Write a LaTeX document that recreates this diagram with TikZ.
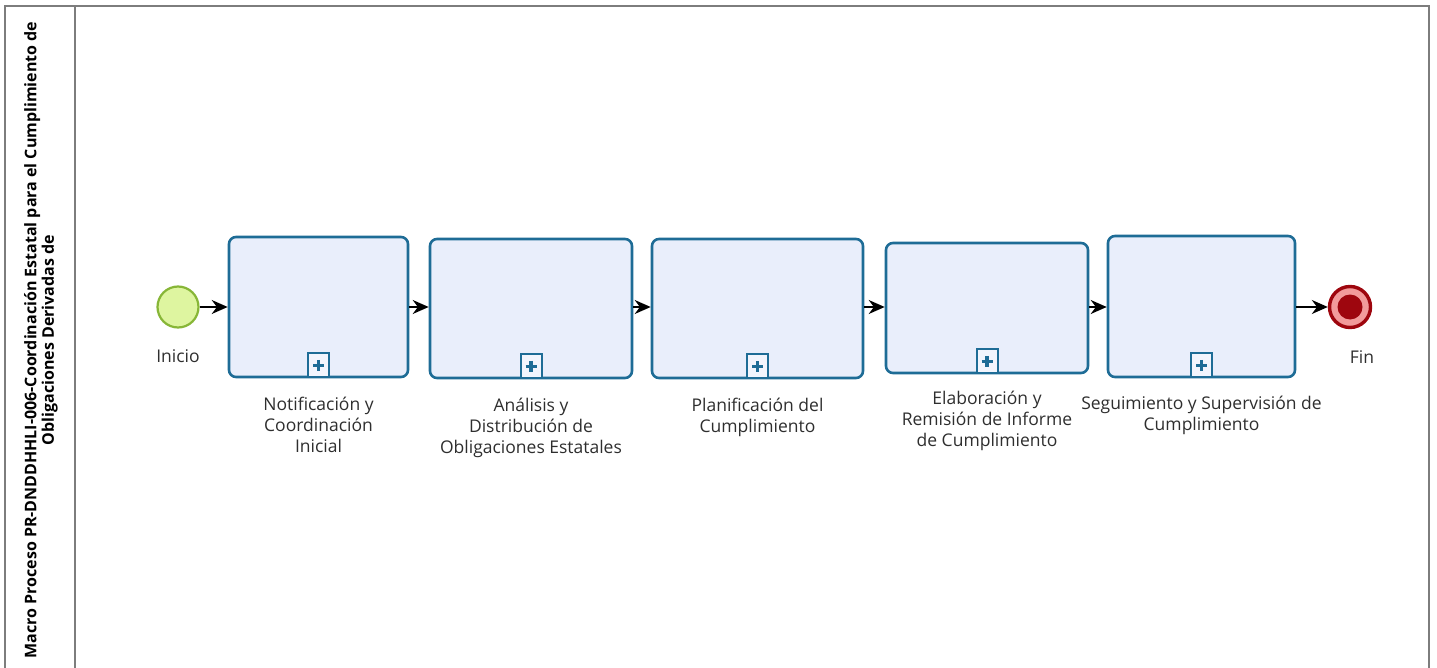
\documentclass[tikz,border=0pt]{standalone}
\usepackage{fontspec}
\setmainfont{Open Sans}
\usetikzlibrary{arrows.meta,positioning,calc}

\definecolor{frameGray}{RGB}{125,125,125}
\definecolor{taskFill}{RGB}{233,238,251}
\definecolor{taskDraw}{RGB}{30,108,150}
\definecolor{startFill}{RGB}{222,245,160}
\definecolor{startDraw}{RGB}{135,182,55}
\definecolor{endDraw}{RGB}{158,6,14}
\definecolor{endRing}{RGB}{242,155,155}

\begin{document}
\begin{tikzpicture}[
    x=1pt, y=-1pt,
    task/.style={draw=taskDraw, fill=taskFill, line width=2.6pt, rounded corners=7pt, inner sep=0pt},
    marker/.style={draw=taskDraw, fill=taskFill!60!white, line width=2pt, minimum width=21pt, minimum height=24pt, inner sep=0pt, anchor=south},
    caption/.style={font=\fontsize{17.5}{21}\selectfont, align=center, text=black!82, inner sep=0pt},
    flow/.style={-{Stealth[length=16pt, width=14pt]}, line width=1.6pt}
]
\useasboundingbox (0,0) rectangle (1437,668);

% pool frame and title band
\draw[frameGray, line width=1.4pt] (5,668) |- (1429,6) -- (1429,668);
\draw[frameGray, line width=1.4pt] (75,6) -- (75,668);
\node[rotate=90, align=center, font=\bfseries\fontsize{16}{17.5}\selectfont] (title) at (41,340)
    {Macro Proceso PR-DNDDHHLI-006-Coordinación Estatal para el Cumplimiento de\\Obligaciones Derivadas de};

% events
\node[circle, draw=startDraw, fill=startFill, line width=2.2pt, minimum size=41pt, inner sep=0pt] (start) at (178,307) {};
\node[circle, draw=endDraw, fill=endRing, line width=3.4pt, minimum size=41pt, inner sep=0pt] (end) at (1350,307) {};
\node[circle, fill=endDraw, minimum size=25pt, inner sep=0pt] (endin) at (end.center) {};

\node[caption, below=21pt of start] (startlbl) {Inicio};
\node[caption, below=21pt of end, xshift=12pt] (endlbl) {Fin};

% sub-processes
\node[task, minimum width=179pt, minimum height=140pt] (t1) at (318.5,307) {};
\node[task, minimum width=202pt, minimum height=139pt] (t2) at (531,308.5) {};
\node[task, minimum width=211pt, minimum height=139pt] (t3) at (757.5,308.5) {};
\node[task, minimum width=202pt, minimum height=130pt] (t4) at (987,308) {};
\node[task, minimum width=187pt, minimum height=141pt] (t5) at (1201.5,306.5) {};

\foreach \t in {t1,t2,t3,t4,t5}{
    \node[marker] (\t m) at (\t.south) {};
    \draw[taskDraw, line width=3.4pt] ($(\t m.center)+(-5.5,0)$) -- ($(\t m.center)+(5.5,0)$);
    \draw[taskDraw, line width=3.4pt] ($(\t m.center)+(0,-5.5)$) -- ($(\t m.center)+(0,5.5)$);
}

\node[caption, below=19pt of t1] (t1lbl) {Notificación y\\Coordinación\\Inicial};
\node[caption, below=19pt of t2] (t2lbl) {Análisis y\\Distribución de\\Obligaciones Estatales};
\node[caption, below=19pt of t3] (t3lbl) {Planificación del\\Cumplimiento};
\node[caption, below=17pt of t4] (t4lbl) {Elaboración y\\Remisión de Informe\\de Cumplimiento};
\node[caption, below=18pt of t5] (t5lbl) {Seguimiento y Supervisión de\\Cumplimiento};

% sequence flows
\draw[flow] (start) -- (t1);
\draw[flow] (t1.east |- start) -- (t2.west |- start);
\draw[flow] (t2.east |- start) -- (t3.west |- start);
\draw[flow] (t3.east |- start) -- (t4.west |- start);
\draw[flow] (t4.east |- start) -- (t5.west |- start);
\draw[flow] (t5.east |- start) -- (end);
\end{tikzpicture}
\end{document}
